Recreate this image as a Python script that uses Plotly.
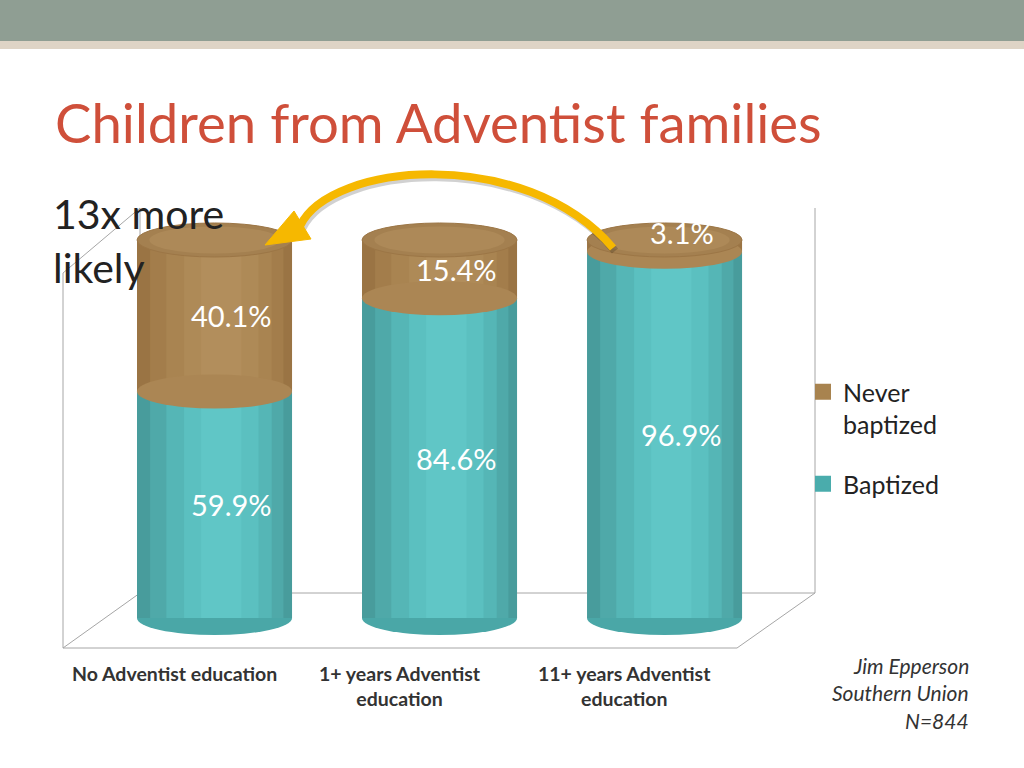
#!/usr/bin/env python3
"""Stacked cylinder-style bars: baptism rate of children from Adventist families."""

import plotly.graph_objects as go

# =============================================================================
# Data
# =============================================================================

CATEGORIES = [
    "No Adventist education",
    "1+ years Adventist<br>education",
    "11+ years Adventist<br>education",
]
BAPTIZED = [59.9, 84.6, 96.9]
NEVER_BAPTIZED = [40.1, 15.4, 3.1]

TITLE = "Children from Adventist families"
CALLOUT = ["13x more", "likely"]
SOURCE = ["Jim Epperson", "Southern Union", "N=844"]

# =============================================================================
# Style
# =============================================================================

FONT = "Lato"
BAR_W = 0.689
CAP = 4.5  # half height of the cylinder ellipses, in y units

TEAL_LAYERS = [(1.00, 0.00, "#489c9c"), (0.86, 0.01, "#4fa9a9"),
               (0.68, 0.02, "#55b6b6"), (0.48, 0.03, "#5bc0c0"),
               (0.26, 0.03, "#60c6c6")]
BROWN_LAYERS = [(1.00, 0.00, "#9a7444"), (0.86, 0.01, "#a37d4b"),
                (0.68, 0.02, "#a98451"), (0.48, 0.03, "#ae8a57"),
                (0.26, 0.03, "#b28e5c")]


def px(x):
    return x / 1024.0


def py(y):
    return 1.0 - y / 768.0


x_pos = list(range(len(CATEGORIES)))
fig = go.Figure()

series = [
    ("Never<br>baptized", NEVER_BAPTIZED, BAPTIZED, BROWN_LAYERS, "#a8834f"),
    ("Baptized", BAPTIZED, [0.0] * len(BAPTIZED), TEAL_LAYERS, "#4aacac"),
]
for name, values, bases, layers, legend_color in series:
    for i, (frac, shift, color) in enumerate(layers):
        w = BAR_W * frac
        fig.add_trace(go.Bar(
            x=x_pos, y=values, base=bases, width=w, offset=-w / 2 + shift,
            marker=dict(color=color, line=dict(width=0)),
            name=name, legendgroup=name, showlegend=False,
            hoverinfo="skip",
        ))
    # legend entry with a larger square swatch
    fig.add_trace(go.Scatter(
        x=[None], y=[None], mode="markers", name=name, legendgroup=name,
        marker=dict(symbol="square", size=16, color=legend_color),
    ))

shapes = []

# top band of the slide
shapes.append(dict(type="rect", xref="paper", yref="paper", x0=0, x1=1,
                   y0=py(41), y1=1, fillcolor="#8f9e93", line_width=0, layer="below"))
shapes.append(dict(type="rect", xref="paper", yref="paper", x0=0, x1=1,
                   y0=py(49), y1=py(41), fillcolor="#ded4c6", line_width=0, layer="below"))

# 3D box frame
box_lines = [
    ((63, 273), (63, 648)), ((63, 273), (140, 208)), ((140, 208), (140, 593)),
    ((140, 593), (815, 593)), ((815, 208), (815, 593)), ((63, 648), (737, 648)),
    ((63, 648), (140, 593)), ((737, 648), (815, 593)),
]
for (xa, ya), (xb, yb) in box_lines:
    shapes.append(dict(type="line", xref="paper", yref="paper",
                       x0=px(xa), y0=py(ya), x1=px(xb), y1=py(yb),
                       line=dict(color="#a6a6a6", width=1), layer="below"))

# cylinder ends
for i in x_pos:
    x0, x1 = i - BAR_W / 2, i + BAR_W / 2
    shapes.append(dict(type="circle", xref="x", yref="y", x0=x0, x1=x1,
                       y0=-CAP, y1=CAP, fillcolor="#4aa7a7", line_width=0, layer="below"))
    mid = BAPTIZED[i]
    shapes.append(dict(type="circle", xref="x", yref="y", x0=x0, x1=x1,
                       y0=mid - CAP, y1=mid + CAP, fillcolor="#ab8654", line_width=0))
    top = BAPTIZED[i] + NEVER_BAPTIZED[i]
    shapes.append(dict(type="circle", xref="x", yref="y", x0=x0, x1=x1,
                       y0=top - CAP, y1=top + CAP, fillcolor="#a48050",
                       line=dict(color="#9c7646", width=1)))
    shapes.append(dict(type="circle", xref="x", yref="y",
                       x0=x0 + BAR_W * 0.08, x1=x1 - BAR_W * 0.08,
                       y0=top - CAP * 0.8, y1=top + CAP * 0.8,
                       fillcolor="#ad8958", line_width=0))


# curved arrow from the right cylinder to the left one
def bezier(points):
    (ax, ay), (bx, by), (cx, cy), (dx, dy) = points
    return (f"M {px(ax)},{py(ay)} C {px(bx)},{py(by)} {px(cx)},{py(cy)} "
            f"{px(dx)},{py(dy)}")


arrow_pts = [(613, 248), (525, 145), (330, 162), (300, 226)]
shadow_pts = [(x + 2, y + 3) for x, y in arrow_pts]
shapes.append(dict(type="path", xref="paper", yref="paper", path=bezier(shadow_pts),
                   line=dict(color="rgba(0,0,0,0.18)", width=8)))
shapes.append(dict(type="path", xref="paper", yref="paper", path=bezier(arrow_pts),
                   line=dict(color="#f6b800", width=8)))
head = [(265, 245), (294, 211), (311, 239)]
shapes.append(dict(type="path", xref="paper", yref="paper",
                   path="M " + " L ".join(f"{px(x)},{py(y)}" for x, y in head) + " Z",
                   fillcolor="#f6b800", line=dict(color="#f6b800", width=1)))

annotations = []

# segment labels
for name, values, bases, _, _ in series:
    for i in x_pos:
        annotations.append(dict(
            x=i, y=bases[i] + values[i] / 2, xref="x", yref="y",
            yanchor="middle", xanchor="center",
            text=f"{values[i]:.1f}%", showarrow=False, xshift=17,
            yshift=13 if values[i] < 5 else 0,
            font=dict(family=FONT, size=29, color="white"),
        ))

# category labels (drawn on the front edge of the floor)
for i, label in zip(x_pos, CATEGORIES):
    annotations.append(dict(
        x=i, y=py(660), xref="x", yref="paper", yanchor="top", xanchor="center",
        xshift=-40, text=f"<b>{label}</b>", showarrow=False, align="center",
        font=dict(family=FONT, size=19.5, color="#333333"),
    ))

annotations.append(dict(
    x=px(53), y=py(122), xref="paper", yref="paper", xanchor="left", yanchor="middle",
    text=TITLE, showarrow=False,
    font=dict(family=FONT, size=54.5, color="#cf4f3a"),
))
for k, line in enumerate(CALLOUT):
    annotations.append(dict(
        x=px(51), y=py(213 + 55 * k), xref="paper", yref="paper",
        xanchor="left", yanchor="middle", text=line, showarrow=False,
        font=dict(family=FONT, size=41, color="#222222"),
    ))
for k, line in enumerate(SOURCE):
    annotations.append(dict(
        x=px(971), y=py(665 + 27.5 * k), xref="paper", yref="paper",
        xanchor="right", yanchor="middle", text=f"<i>{line}</i>", showarrow=False,
        font=dict(family=FONT, size=21, color="#333333"),
    ))

fig.update_layout(
    width=1024,
    height=768,
    barmode="overlay",
    paper_bgcolor="white",
    plot_bgcolor="rgba(0,0,0,0)",
    margin=dict(l=0, r=0, t=0, b=0),
    shapes=shapes,
    annotations=annotations,
    legend=dict(
        x=px(803), y=py(369), xanchor="left", yanchor="top",
        traceorder="grouped", tracegroupgap=24, valign="top",
        itemsizing="trace",
        font=dict(family=FONT, size=25, color="#222222"),
        bgcolor="rgba(0,0,0,0)",
    ),
    xaxis=dict(domain=[px(40), px(800)], range=[-0.7756, 2.602],
               visible=False, fixedrange=True),
    yaxis=dict(domain=[py(660), py(200)], range=[-11.11, 110.58],
               visible=False, fixedrange=True),
    hovermode=False,
)

fig.write_html(
    "out.html",
    config={"displayModeBar": False},
    post_script="document.body.style.margin='0';document.body.style.overflow='hidden';",
)
